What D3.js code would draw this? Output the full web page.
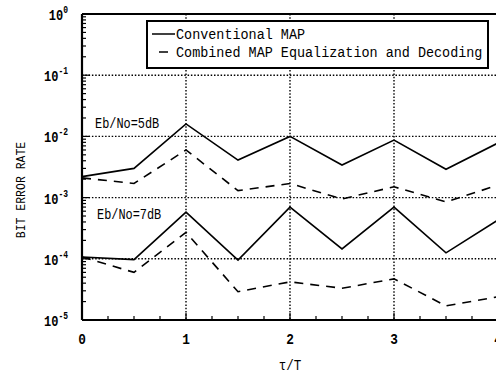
<!DOCTYPE html>
<html>
<head>
<meta charset="utf-8">
<script src="https://cdn.jsdelivr.net/npm/d3@7"></script>
<style>
  body { margin: 0; background: #fff; }
  text { font-family: "Liberation Mono", "DejaVu Sans Mono", monospace; fill: #000; }
</style>
</head>
<body>
<div id="chart"></div>
<script>
// data
var tau = [0, 0.5, 1, 1.5, 2, 2.5, 3, 3.5, 4];
var conv5 = [2.2e-3, 3.0e-3, 1.6e-2, 4.1e-3, 1.0e-2, 3.4e-3, 8.7e-3, 2.9e-3, 7.8e-3];
var comb5 = [2.1e-3, 1.7e-3, 6.0e-3, 1.3e-3, 1.7e-3, 9.5e-4, 1.5e-3, 8.5e-4, 1.6e-3];
var conv7 = [1.07e-4, 9.7e-5, 5.8e-4, 9.5e-5, 7.0e-4, 1.45e-4, 7.0e-4, 1.25e-4, 4.3e-4];
var comb7 = [1.07e-4, 6.0e-5, 2.7e-4, 2.9e-5, 4.2e-5, 3.3e-5, 4.7e-5, 1.7e-5, 2.4e-5];
var yTickExp = [0, -1, -2, -3, -4, -5];
var xTicks = [0, 1, 2, 3, 4];
var legendLabels = ["Conventional MAP", "Combined MAP Equalization and Decoding"];

var svgWidth = 496, svgHeight = 375;
var margin = {top: 14, right: -2, bottom: 55, left: 82};

var svg = d3.select("#chart").append("svg")
    .attr("width", svgWidth)
    .attr("height", svgHeight);

var x = d3.scaleLinear().domain([0, 4]).range([margin.left, svgWidth - margin.right]);
var y = d3.scaleLog().domain([1e-5, 1]).range([svgHeight - margin.bottom, margin.top]);

// grid (dotted)
svg.append("g").selectAll("line")
    .data(yTickExp.slice(1, 5))
    .enter().append("line")
    .attr("x1", x(0)).attr("x2", x(4))
    .attr("y1", d => y(Math.pow(10, d))).attr("y2", d => y(Math.pow(10, d)))
    .attr("stroke", "#000").attr("stroke-width", 1.4).attr("stroke-dasharray", "1.5,1.8");

svg.append("g").selectAll("line")
    .data(xTicks.slice(1, 4))
    .enter().append("line")
    .attr("x1", d => x(d)).attr("x2", d => x(d))
    .attr("y1", y(1)).attr("y2", y(1e-5))
    .attr("stroke", "#000").attr("stroke-width", 1.4).attr("stroke-dasharray", "1.5,1.8");

// minor ticks on left axis
var minor = [];
yTickExp.slice(1).forEach(function (e) {
  for (var k = 1; k < 10; k++) minor.push(k * Math.pow(10, e));
});
svg.append("g").selectAll("line")
    .data(minor)
    .enter().append("line")
    .attr("x1", x(0)).attr("x2", (d, i) => x(0) + (i % 9 === 0 ? 8 : 4))
    .attr("y1", d => y(d)).attr("y2", d => y(d))
    .attr("stroke", "#000").attr("stroke-width", 1.2);

// bottom ticks every 0.25
svg.append("g").selectAll("line")
    .data(d3.range(0.25, 4, 0.25))
    .enter().append("line")
    .attr("x1", d => x(d)).attr("x2", d => x(d))
    .attr("y1", y(1e-5)).attr("y2", d => y(1e-5) - (d % 1 === 0 ? 7 : 4))
    .attr("stroke", "#000").attr("stroke-width", 1.2);

// frame
svg.append("line").attr("x1", x(0)).attr("x2", x(0)).attr("y1", y(1)).attr("y2", y(1e-5))
    .attr("stroke", "#000").attr("stroke-width", 2.2);
svg.append("line").attr("x1", x(0)).attr("x2", x(4)).attr("y1", y(1e-5)).attr("y2", y(1e-5))
    .attr("stroke", "#000").attr("stroke-width", 2.2);
svg.append("line").attr("x1", x(0)).attr("x2", x(4)).attr("y1", y(1)).attr("y2", y(1))
    .attr("stroke", "#000").attr("stroke-width", 2.2);

// series
var line = d3.line().x((d, i) => x(tau[i])).y(d => y(d));
[[conv5, null], [comb5, "9,7"], [conv7, null], [comb7, "9,7"]].forEach(function (s) {
  svg.append("path")
      .datum(s[0])
      .attr("d", line)
      .attr("fill", "none")
      .attr("stroke", "#000")
      .attr("stroke-width", 1.6)
      .attr("stroke-dasharray", s[1]);
});

// y tick labels (narrow plotter style)
var yl = svg.append("g").selectAll("text")
    .data(yTickExp)
    .enter().append("text")
    .attr("transform", d => `translate(${x(0) - 14}, ${y(Math.pow(10, d)) + 6}) scale(0.8, 1)`)
    .attr("text-anchor", "end")
    .attr("font-size", 15)
    .attr("font-weight", "bold");
yl.append("tspan").text("10");
yl.append("tspan").attr("dy", -7).attr("font-size", 10).text(d => d === 0 ? "0" : "-" + (-d));

// x tick labels
svg.append("g").selectAll("text")
    .data(xTicks)
    .enter().append("text")
    .attr("transform", d => `translate(${x(d)}, ${y(1e-5) + 24}) scale(0.85, 1)`)
    .attr("text-anchor", "middle")
    .attr("font-size", 15)
    .attr("font-weight", "bold")
    .text(d => d);

// axis titles
svg.append("text")
    .attr("transform", "translate(25, 190) rotate(-90) scale(0.85, 1)")
    .attr("text-anchor", "middle")
    .attr("font-size", 13.5)
    .text("BIT ERROR RATE");

svg.append("text")
    .attr("transform", `translate(${x(2)}, 370) scale(0.9, 1)`)
    .attr("text-anchor", "middle")
    .attr("font-size", 14)
    .text("\u03c4/T");

// annotations
svg.append("text").attr("transform", "translate(95, 128) scale(0.85, 1)").attr("font-size", 14).text("Eb/No=5dB");
svg.append("text").attr("transform", "translate(97, 219) scale(0.85, 1)").attr("font-size", 14).text("Eb/No=7dB");

// legend
var lg = svg.append("g");
lg.append("rect").attr("x", 147).attr("y", 21).attr("width", 341).attr("height", 47)
    .attr("fill", "#fff").attr("stroke", "#000").attr("stroke-width", 2);
lg.append("line").attr("x1", 152).attr("x2", 175).attr("y1", 34).attr("y2", 34)
    .attr("stroke", "#000").attr("stroke-width", 1.5);
lg.append("line").attr("x1", 159).attr("x2", 168).attr("y1", 52).attr("y2", 52)
    .attr("stroke", "#000").attr("stroke-width", 1.5);
lg.selectAll("text.lab")
    .data(legendLabels)
    .enter().append("text")
    .attr("class", "lab")
    .attr("transform", (d, i) => `translate(176, ${39 + i * 18}) scale(0.96, 1)`)
    .attr("font-size", 14)
    .text(d => d);
</script>
</body>
</html>
